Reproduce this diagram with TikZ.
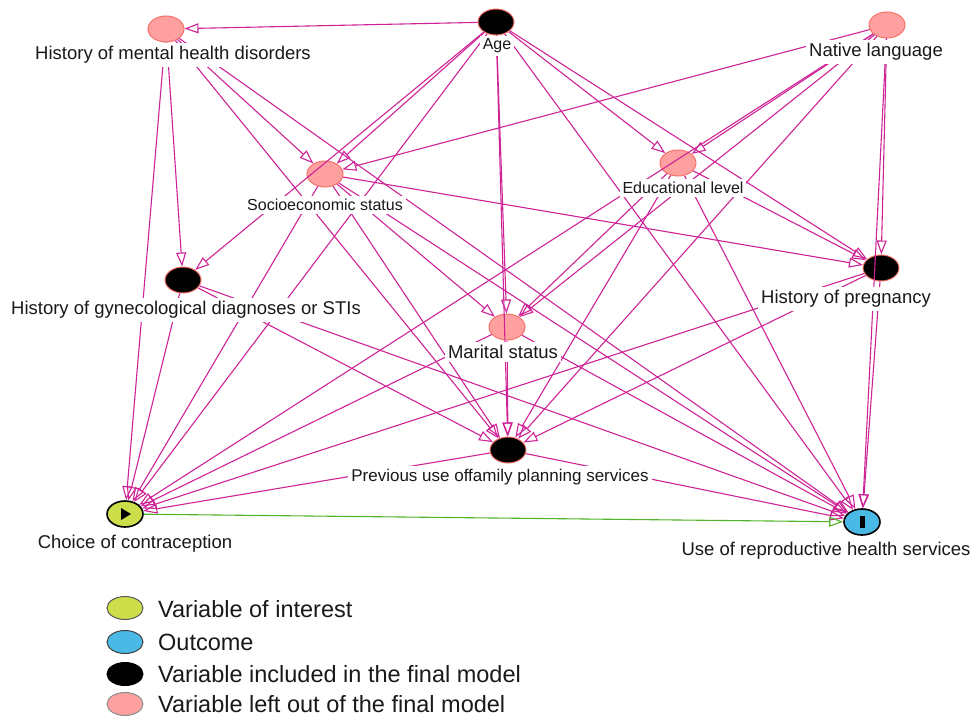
\documentclass[tikz,border=0pt]{standalone}
\usepackage{fontspec}
\setmainfont{Liberation Sans}
\usetikzlibrary{arrows.meta,shapes.geometric}
\definecolor{edgec}{RGB}{205,35,150}
\definecolor{pinkfill}{RGB}{255,160,160}
\definecolor{pinkline}{RGB}{245,115,105}
\definecolor{greenedge}{RGB}{80,180,40}
\definecolor{yfill}{RGB}{205,222,75}
\definecolor{bfill}{RGB}{75,185,230}
\tikzset{
  var/.style={ellipse, minimum width=36pt, minimum height=26pt, inner sep=0pt, line width=1pt},
  leftout/.style={var, fill=pinkfill, draw=pinkline},
  incl/.style={var, fill=black, draw=pinkline},
  interest/.style={var, fill=yfill, draw=black, line width=1.6pt},
  outc/.style={var, fill=bfill, draw=black, line width=1.6pt},
  edge/.style={draw=edgec, line width=1.1pt, -{Triangle[open,length=14pt,width=10pt]}},
  gedge/.style={draw=greenedge, line width=1.1pt, -{Triangle[open,length=14pt,width=10pt]}},
  lbl/.style={fill=white, inner sep=3pt, font=\fontsize{18.5}{20}\selectfont, text=black!90},
  slbl/.style={fill=white, inner sep=3pt, font=\fontsize{16}{18}\selectfont, text=black!90},
  legtxt/.style={anchor=west, inner sep=0pt, font=\fontsize{23.5}{25}\selectfont, text=black!90},
  legsym/.style={ellipse, minimum width=36pt, minimum height=23pt, inner sep=0pt, line width=1pt}
}
\begin{document}
\begin{tikzpicture}[x=1pt,y=-1pt]
\useasboundingbox (0,0) rectangle (974,717);
% nodes
\node[leftout] (MH) at (166,29) {};
\node[incl] (Age) at (496,22) {};
\node[leftout] (NL) at (887,25) {};
\node[leftout] (SES) at (325,174) {};
\node[leftout] (EDU) at (678,163) {};
\node[incl] (GYN) at (183,280) {};
\node[incl] (PREG) at (881,268) {};
\node[leftout] (MAR) at (507,327) {};
\node[incl] (FP) at (508,450) {};
\node[interest] (CC) at (125,514) {};
\node[outc] (RH) at (862,522) {};
% edges
\foreach \a/\b in {Age/MH, Age/SES, Age/GYN, Age/MAR, Age/FP, Age/EDU, Age/PREG, Age/RH, Age/CC,
  MH/GYN, MH/SES, MH/FP, MH/RH, MH/CC,
  NL/SES, NL/EDU, NL/MAR, NL/FP, NL/PREG, NL/RH, NL/CC,
  SES/MAR, SES/FP, SES/RH, SES/PREG, SES/CC,
  EDU/MAR, EDU/FP, EDU/RH, EDU/PREG,
  GYN/CC, GYN/FP, GYN/RH,
  PREG/CC, PREG/FP, PREG/RH,
  MAR/FP, MAR/CC, MAR/RH,
  FP/CC, FP/RH}
  \draw[edge] (\a) -- (\b);
\draw[gedge] (CC) -- (RH);
% labels
\node[lbl] (MHl) at (173,55) {History of mental health disorders};
\node[slbl] (Agel) at (497,46) {Age};
\node[lbl] (NLl) at (876,52) {Native language};
\node[slbl] (SESl) at (325,205) {Socioeconomic status};
\node[slbl] (EDUl) at (683,188) {Educational level};
\node[lbl] (GYNl) at (186,310) {History of gynecological diagnoses or STIs};
\node[lbl] (PREGl) at (846,299) {History of pregnancy};
\node[lbl] (MARl) at (503,352) {Marital status};
\node[slbl, font=\fontsize{17}{19}\selectfont] (FPl) at (500,477) {Previous use offamily planning services};
\node[lbl] (CCl) at (135,544) {Choice of contraception};
\node[lbl] (RHl) at (826,551) {Use of reproductive health services};
% node glyphs
\fill (CC) ++(-4,-6) -- ++(10,6) -- ++(-10,6) -- cycle;
\fill (RH) ++(-2.5,-6) rectangle ++(5,12);
% legend
\node[legsym, fill=yfill, draw=black!65] (L1) at (125,608) {};
\node[legsym, fill=bfill, draw=black!75] (L2) at (125,642) {};
\node[legsym, fill=black, draw=black] (L3) at (125,674) {};
\node[legsym, fill=pinkfill, draw=black!45] (L4) at (125,704) {};
\node[legtxt] (T1) at (158,609) {Variable of interest};
\node[legtxt] (T2) at (158,642) {Outcome};
\node[legtxt] (T3) at (158,674) {Variable included in the final model};
\node[legtxt] (T4) at (158,704) {Variable left out of the final model};
\end{tikzpicture}
\end{document}
